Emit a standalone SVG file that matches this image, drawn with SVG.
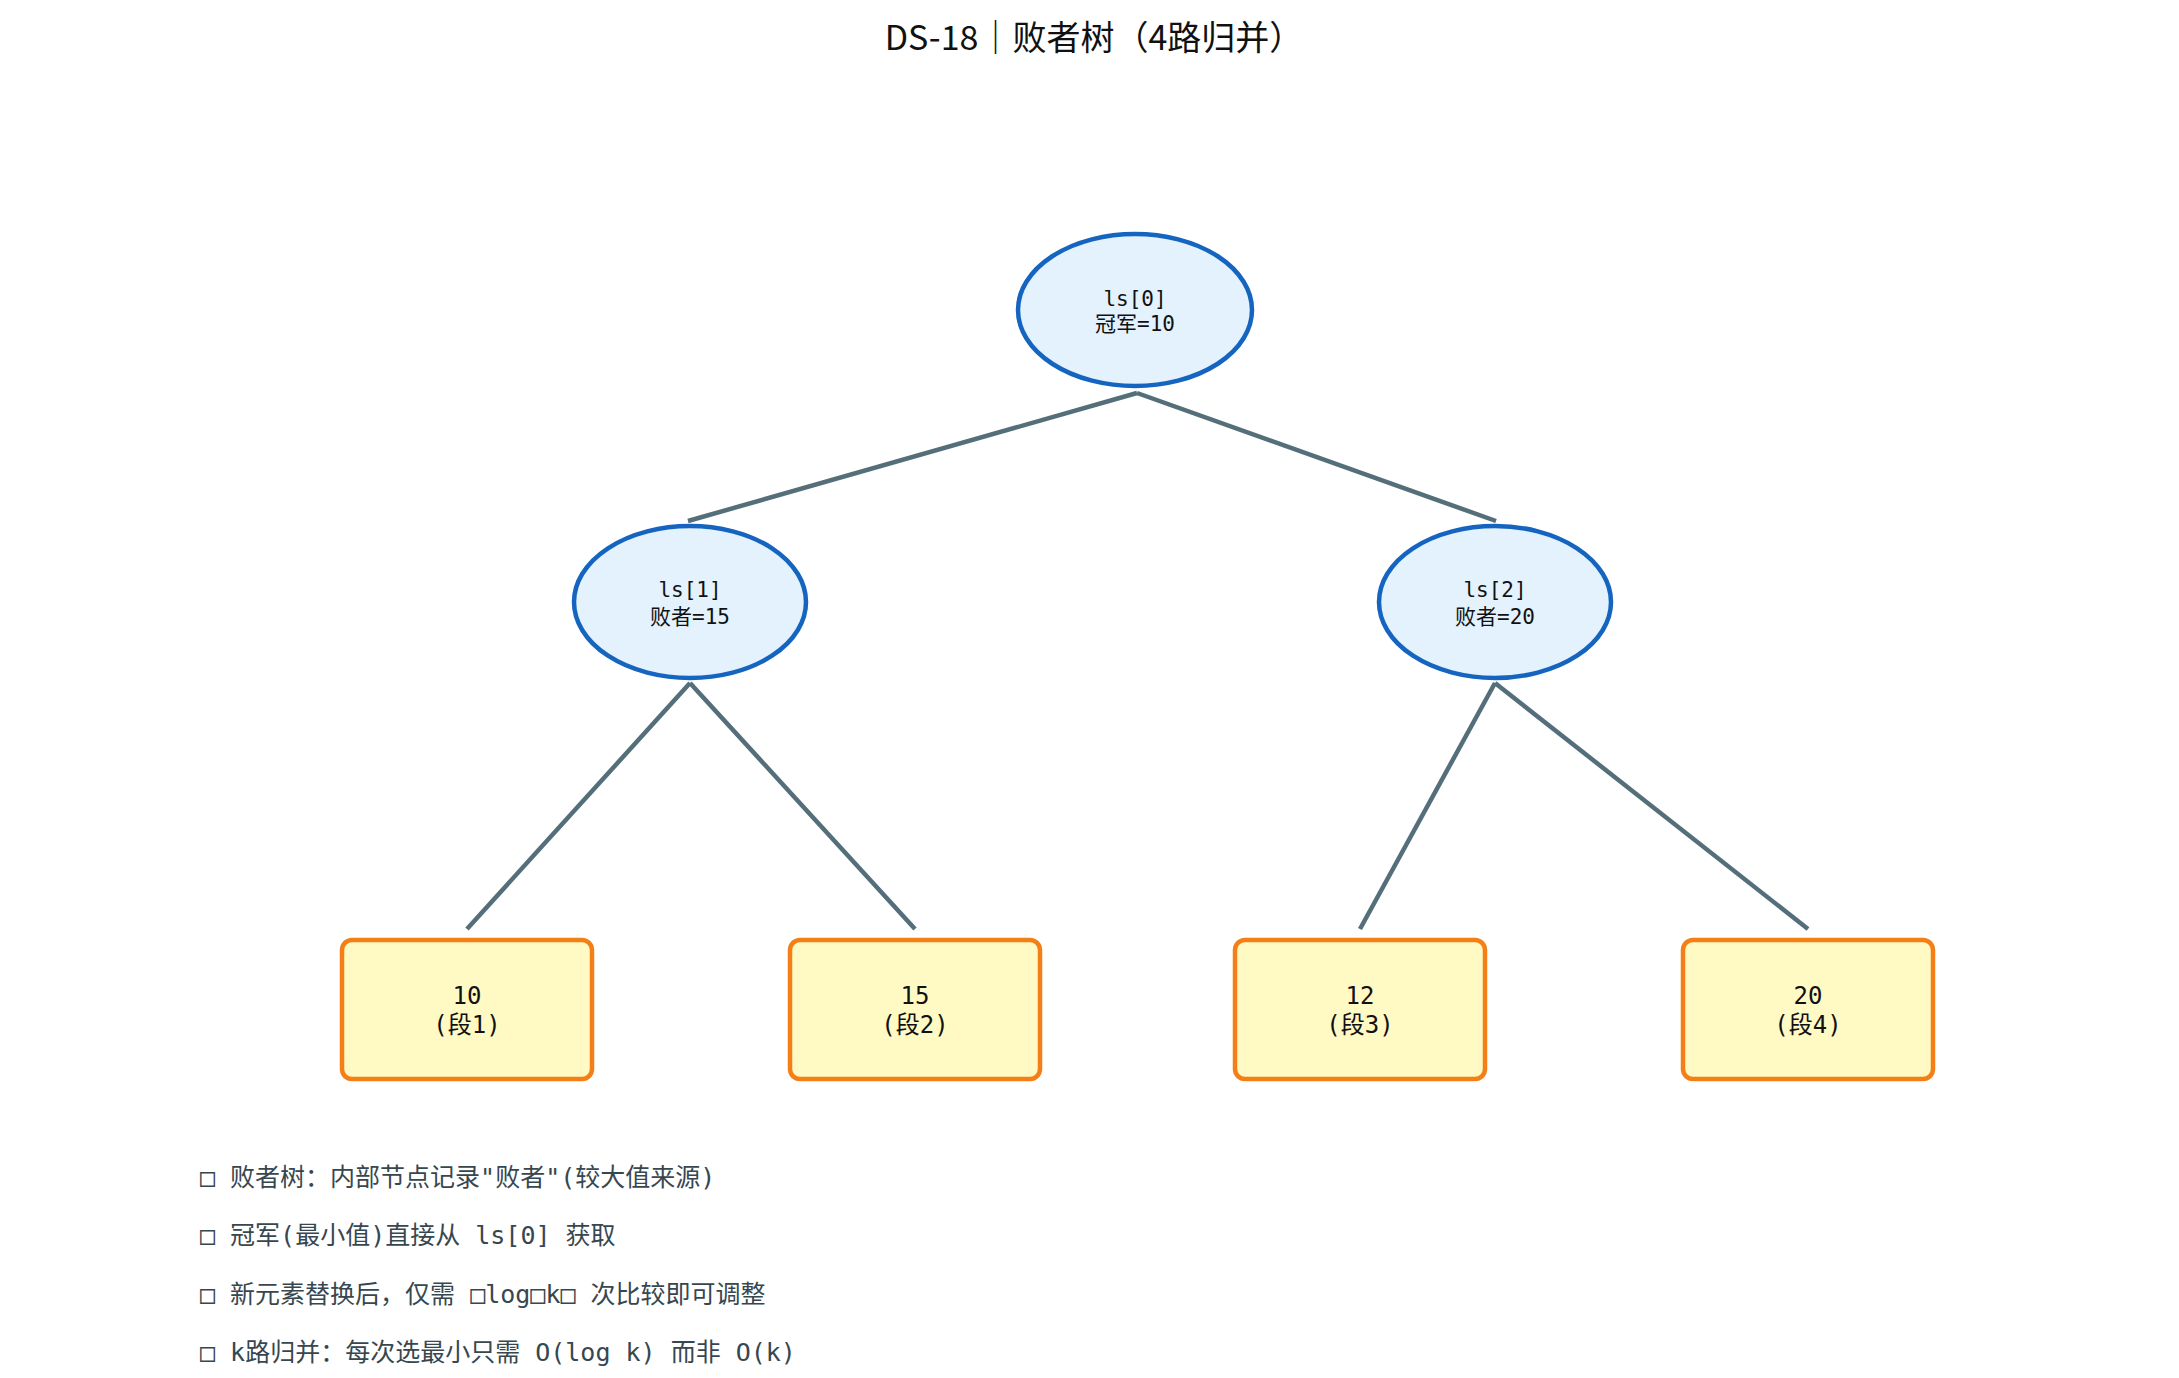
<svg xmlns="http://www.w3.org/2000/svg" width="2179" height="1378" viewBox="0 0 2179 1378">
<style>
.e{fill:#e3f2fd;stroke:#1565c0;stroke-width:4.5}
.r{fill:#fff9c4;stroke:#f57f17;stroke-width:4.5}
.c line{stroke:#546e7a;stroke-width:4.5}
.t{font-family:"DejaVu Sans Mono","Noto Sans CJK SC",monospace;font-size:21px;fill:#111;text-anchor:middle}
.l{font-family:"DejaVu Sans Mono","Noto Sans CJK SC",monospace;font-size:24px;fill:#111;text-anchor:middle}
.b{font-family:"DejaVu Sans Mono","Noto Sans CJK SC",monospace;font-size:25px;fill:#37474f}
</style>
<rect width="2179" height="1378" fill="#fff"/>
<text x="1094" y="50" font-family="'Noto Sans CJK SC',sans-serif" font-size="34" text-anchor="middle" fill="#111">DS-18｜败者树（4路归并）</text>
<g class="c">
<line x1="1137" y1="393" x2="688" y2="521"/>
<line x1="1137" y1="393" x2="1496" y2="521"/>
<line x1="690" y1="683" x2="467" y2="929"/>
<line x1="690" y1="683" x2="915" y2="929"/>
<line x1="1495" y1="683" x2="1360" y2="929"/>
<line x1="1495" y1="683" x2="1808" y2="929"/>
</g>
<g id="ls0"><ellipse class="e" cx="1135" cy="310" rx="117" ry="76"/><text class="t" x="1135" y="306">ls[0]</text><text class="t" x="1135" y="331">冠军=10</text></g>
<g id="ls1"><ellipse class="e" cx="690" cy="602" rx="116" ry="76"/><text class="t" x="690" y="597">ls[1]</text><text class="t" x="690" y="624">败者=15</text></g>
<g id="ls2"><ellipse class="e" cx="1495" cy="602" rx="116" ry="76"/><text class="t" x="1495" y="597">ls[2]</text><text class="t" x="1495" y="624">败者=20</text></g>
<g id="s1"><rect class="r" x="342" y="940" width="250" height="139" rx="10"/><text class="l" x="467" y="1004">10</text><text class="l" x="467" y="1033">(段1)</text></g>
<g id="s2"><rect class="r" x="790" y="940" width="250" height="139" rx="10"/><text class="l" x="915" y="1004">15</text><text class="l" x="915" y="1033">(段2)</text></g>
<g id="s3"><rect class="r" x="1235" y="940" width="250" height="139" rx="10"/><text class="l" x="1360" y="1004">12</text><text class="l" x="1360" y="1033">(段3)</text></g>
<g id="s4"><rect class="r" x="1683" y="940" width="250" height="139" rx="10"/><text class="l" x="1808" y="1004">20</text><text class="l" x="1808" y="1033">(段4)</text></g>
<g id="notes">
<text class="b" x="200" y="1186">□ 败者树：内部节点记录"败者"(较大值来源)</text>
<text class="b" x="200" y="1244">□ 冠军(最小值)直接从 ls[0] 获取</text>
<text class="b" x="200" y="1303">□ 新元素替换后，仅需 □log□k□ 次比较即可调整</text>
<text class="b" x="200" y="1361">□ k路归并：每次选最小只需 O(log k) 而非 O(k)</text>
</g>
</svg>
